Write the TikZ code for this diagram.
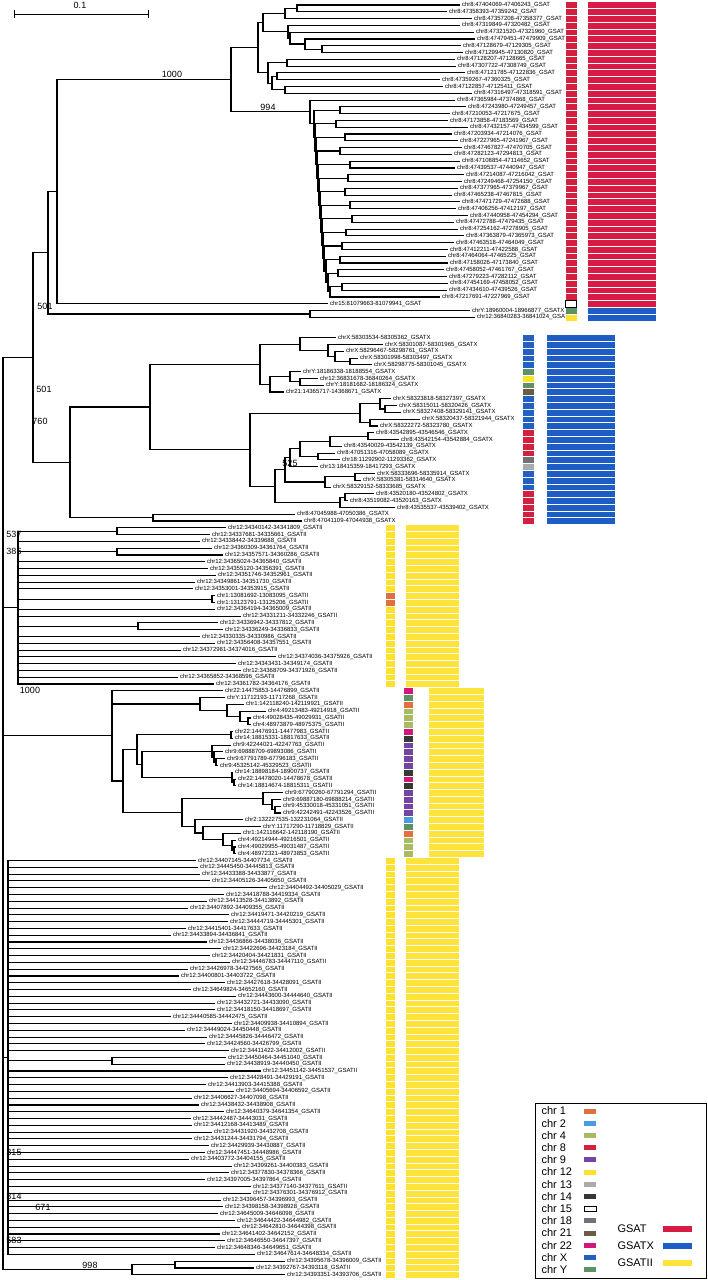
\documentclass[tikz,border=0pt]{standalone}
\usepackage{fontspec}
\setmainfont{Liberation Sans}
\usetikzlibrary{calc}
\definecolor{c1}{HTML}{E2703F}
\definecolor{c2}{HTML}{4A9BE2}
\definecolor{c4}{HTML}{A9BA64}
\definecolor{c8}{HTML}{D3203F}
\definecolor{c9}{HTML}{7444A2}
\definecolor{c12}{HTML}{FDE12F}
\definecolor{c13}{HTML}{A9ABAE}
\definecolor{c14}{HTML}{343A33}
\definecolor{c15}{HTML}{FFFFFF}
\definecolor{c18}{HTML}{707275}
\definecolor{c21}{HTML}{6C5B45}
\definecolor{c22}{HTML}{D1177A}
\definecolor{cX}{HTML}{2260C2}
\definecolor{cY}{HTML}{5E9264}
\definecolor{famsat}{HTML}{D81B45}
\definecolor{famsatx}{HTML}{1E5CC6}
\definecolor{famsatii}{HTML}{FEE33A}

\begin{document}
\begin{tikzpicture}[x=1pt,y=-1pt,line width=1.1pt,
    leaf/.style={anchor=west,inner sep=0pt,xshift=1.5pt,font=\fontsize{6}{6.5}\selectfont},
    boot/.style={font=\fontsize{9}{9}\selectfont,inner sep=0pt},
    cell/.style={draw=white,line width=0.3pt},
    legtxt/.style={anchor=west,inner sep=0pt,font=\fontsize{11}{11}\selectfont}]
  \useasboundingbox (0,0) rectangle (708,1280);

  % scale bar
  \coordinate (sb0) at (14,14);
  \coordinate (sb1) at (148,14);
  \draw[line width=0.8pt] (sb0) -- (sb1);
  \draw[line width=0.8pt] ($(sb0)+(0,-4)$) -- ($(sb0)+(0,4)$);
  \draw[line width=0.8pt] ($(sb1)+(0,-4)$) -- ($(sb1)+(0,4)$);
  \node[boot] (sblab) at (80,5) {0.1};

  % GSAT leaves
  \foreach \k/\xe/\cc/\fc/\lab in {
    1/460/c8/famsat/{chr8:47404069-47406243\_GSAT},
    2/447/c8/famsat/{chr8:47358393-47359242\_GSAT},
    3/472/c8/famsat/{chr8:47357208-47358377\_GSAT},
    4/460/c8/famsat/{chr8:47319849-47320482\_GSAT},
    5/474/c8/famsat/{chr8:47321520-47321960\_GSAT},
    6/475/c8/famsat/{chr8:47479451-47479909\_GSAT},
    7/461/c8/famsat/{chr8:47128679-47129305\_GSAT},
    8/463/c8/famsat/{chr8:47129945-47130820\_GSAT},
    9/455/c8/famsat/{chr8:47128207-47128665\_GSAT},
    10/456/c8/famsat/{chr8:47307722-47308749\_GSAT},
    11/465/c8/famsat/{chr8:47121785-47122836\_GSAT},
    12/440/c8/famsat/{chr8:47359267-47360325\_GSAT},
    13/443/c8/famsat/{chr8:47122857-47125411\_GSAT},
    14/472/c8/famsat/{chr8:47316497-47318591\_GSAT},
    15/455/c8/famsat/{chr8:47365984-47374868\_GSAT},
    16/466/c8/famsat/{chr8:47243980-47249457\_GSAT},
    17/450/c8/famsat/{chr8:47210053-47217675\_GSAT},
    18/448/c8/famsat/{chr8:47173858-47183569\_GSAT},
    19/468/c8/famsat/{chr8:47432157-47434599\_GSAT},
    20/452/c8/famsat/{chr8:47203934-47214076\_GSAT},
    21/458/c8/famsat/{chr8:47227965-47241967\_GSAT},
    22/462/c8/famsat/{chr8:47467827-47470705\_GSAT},
    23/452/c8/famsat/{chr8:47282123-47294813\_GSAT},
    24/460/c8/famsat/{chr8:47108854-47114652\_GSAT},
    25/455/c8/famsat/{chr8:47439537-47440947\_GSAT},
    26/464/c8/famsat/{chr8:47214087-47216042\_GSAT},
    27/462/c8/famsat/{chr8:47249468-47254150\_GSAT},
    28/458/c8/famsat/{chr8:47377965-47379967\_GSAT},
    29/452/c8/famsat/{chr8:47465238-47467815\_GSAT},
    30/460/c8/famsat/{chr8:47471729-47472688\_GSAT},
    31/456/c8/famsat/{chr8:47406256-47412197\_GSAT},
    32/468/c8/famsat/{chr8:47440958-47454294\_GSAT},
    33/454/c8/famsat/{chr8:47472788-47479435\_GSAT},
    34/458/c8/famsat/{chr8:47254162-47278905\_GSAT},
    35/464/c8/famsat/{chr8:47363879-47365973\_GSAT},
    36/454/c8/famsat/{chr8:47463518-47464049\_GSAT},
    37/448/c8/famsat/{chr8:47412211-47422588\_GSAT},
    38/446/c8/famsat/{chr8:47464064-47465225\_GSAT},
    39/448/c8/famsat/{chr8:47158026-47173840\_GSAT},
    40/444/c8/famsat/{chr8:47458052-47461767\_GSAT},
    41/447/c8/famsat/{chr8:47279223-47282112\_GSAT},
    42/448/c8/famsat/{chr8:47454169-47458052\_GSAT},
    43/447/c8/famsat/{chr8:47434610-47439526\_GSAT},
    44/440/c8/famsat/{chr8:47217691-47227969\_GSAT},
    45/328/c15/famsat/{chr15:81079663-81079941\_GSAT},
    46/470/cY/famsatx/{chrY:18960004-18966877\_GSATX},
    47/475/c12/famsatx/{chr12:36840283-36841024\_GSATX}}{
    \coordinate (a\k) at (\xe,{5+(\k-1)*6.79});
    \node[leaf] (la\k) at (a\k) {\lab};
    \path[fill=\cc,cell] (565,{1.6+(\k-1)*6.79}) rectangle ++(12,6.79);
    \path[fill=\fc,cell] (587,{1.6+(\k-1)*6.79}) rectangle ++(69,6.79);
  }
  \draw[line width=0.4pt] (565.5,{1.9+44*6.79}) rectangle ++(11,6.2);

  % GSATX leaves
  \foreach \k/\xe/\cc/\lab in {
    1/336/cX/{chrX:58303534-58305362\_GSATX},
    2/383/cX/{chrX:58301087-58301965\_GSATX},
    3/344/cX/{chrX:58296467-58298761\_GSATX},
    4/358/cX/{chrX:58301998-58303497\_GSATX},
    5/372/cX/{chrX:58298775-58301045\_GSATX},
    6/301/cY/{chrY:18186338-18188554\_GSATX},
    7/318/c12/{chr12:36831678-36840264\_GSATX},
    8/324/cY/{chrY:18181682-18186324\_GSATX},
    9/284/c21/{chr21:14365717-14368671\_GSATX},
    10/391/cX/{chrX:58323818-58327397\_GSATX},
    11/397/cX/{chrX:58315011-58320426\_GSATX},
    12/401/cX/{chrX:58327408-58329141\_GSATX},
    13/420/cX/{chrX:58320437-58321944\_GSATX},
    14/378/cX/{chrX:58322272-58323780\_GSATX},
    15/374/c8/{chr8:43542895-43546546\_GSATX},
    16/399/c8/{chr8:43542154-43542884\_GSATX},
    17/342/c8/{chr8:43540029-43542139\_GSATX},
    18/335/c8/{chr8:47051316-47058089\_GSATX},
    19/340/c18/{chr18:11292902-11293362\_GSATX},
    20/318/c13/{chr13:18415359-18417293\_GSATX},
    21/375/cX/{chrX:58333696-58335914\_GSATX},
    22/361/cX/{chrX:58305381-58314640\_GSATX},
    23/331/cX/{chrX:58329152-58333685\_GSATX},
    24/374/c8/{chr8:43520180-43524802\_GSATX},
    25/348/c8/{chr8:43519082-43520163\_GSATX},
    26/395/c8/{chr8:43535537-43539402\_GSATX},
    27/295/c8/{chr8:47045988-47050386\_GSATX},
    28/302/c8/{chr8:47041109-47044938\_GSATX}}{
    \coordinate (x\k) at (\xe,{5+(\k+48)*6.79});
    \node[leaf] (lx\k) at (x\k) {\lab};
    \path[fill=\cc,cell] (522,{1.6+(\k+48)*6.79}) rectangle ++(12,6.79);
    \path[fill=famsatx,cell] (546,{1.6+(\k+48)*6.79}) rectangle ++(69,6.79);
  }

  % GSATII leaves
  \foreach \k/\xe/\cc/\lab in {
    1/226/c12/{chr12:34340142-34341809\_GSATII},
    2/210/c12/{chr12:34337681-34335661\_GSATII},
    3/200/c12/{chr12:34338442-34339688\_GSATII},
    4/212/c12/{chr12:34360309-34361764\_GSATII},
    5/223/c12/{chr12:34357571-34360286\_GSATII},
    6/205/c12/{chr12:34365024-34365840\_GSATII},
    7/208/c12/{chr12:34355120-34356391\_GSATII},
    8/216/c12/{chr12:34351746-34352961\_GSATII},
    9/195/c12/{chr12:34349861-34351730\_GSATII},
    10/193/c12/{chr12:34353001-34353915\_GSATII},
    11/215/c1/{chr1:13081692-13083095\_GSATII},
    12/215/c1/{chr1:13123791-13125206\_GSATII},
    13/215/c12/{chr12:34364194-34365009\_GSATII},
    14/241/c12/{chr12:34331211-34332246\_GSATII},
    15/218/c12/{chr12:34336942-34337812\_GSATII},
    16/223/c12/{chr12:34336249-34336833\_GSATII},
    17/200/c12/{chr12:34330335-34330986\_GSATII},
    18/215/c12/{chr12:34356408-34357551\_GSATII},
    19/181/c12/{chr12:34372981-34374016\_GSATII},
    20/276/c12/{chr12:34374036-34375926\_GSATII},
    21/236/c12/{chr12:34343431-34349174\_GSATII},
    22/241/c12/{chr12:34368709-34371926\_GSATII},
    23/178/c12/{chr12:34365852-34368596\_GSATII},
    24/214/c12/{chr12:34361782-34364176\_GSATII},
    25/223/c22/{chr22:14475853-14476899\_GSATII},
    26/225/cY/{chrY:11712193-11717268\_GSATII},
    27/244/c1/{chr1:142118240-142119921\_GSATII},
    28/266/c4/{chr4:49213483-49214918\_GSATII},
    29/251/c4/{chr4:49028435-49029931\_GSATII},
    30/251/c4/{chr4:48973879-48975375\_GSATII},
    31/233/c22/{chr22:14476911-14477983\_GSATII},
    32/233/c14/{chr14:18815331-18817633\_GSATII},
    33/231/c9/{chr9:42244021-42247763\_GSATII},
    34/223/c9/{chr9:69888709-69893086\_GSATII},
    35/225/c9/{chr9:67791789-67796183\_GSATII},
    36/218/c9/{chr9:45325142-45329523\_GSATII},
    37/233/c14/{chr14:18898184-18900737\_GSATII},
    38/236/c22/{chr22:14478020-14478678\_GSATII},
    39/236/c14/{chr14:18814674-18815311\_GSATII},
    40/283/c9/{chr9:67790260-67791294\_GSATII},
    41/281/c9/{chr9:69887180-69888214\_GSATII},
    42/281/c9/{chr9:45330018-45331051\_GSATII},
    43/281/c9/{chr9:42242491-42243526\_GSATII},
    44/243/c2/{chr2:132227535-132231064\_GSATII},
    45/261/cY/{chrY:11717290-11718829\_GSATII},
    46/241/c1/{chr1:142116642-142118190\_GSATII},
    47/236/c4/{chr4:49214944-49216501\_GSATII},
    48/236/c4/{chr4:49029955-49031487\_GSATII},
    49/236/c4/{chr4:48972321-48973853\_GSATII},
    50/196/c12/{chr12:34407145-34407734\_GSATII},
    51/198/c12/{chr12:34445450-34445813\_GSATII},
    52/200/c12/{chr12:34433388-34433877\_GSATII},
    53/210/c12/{chr12:34405126-34405650\_GSATII},
    54/267/c12/{chr12:34404492-34405029\_GSATII},
    55/224/c12/{chr12:34418788-34419334\_GSATII},
    56/207/c12/{chr12:34413528-34413892\_GSATII},
    57/188/c12/{chr12:34407892-34409355\_GSATII},
    58/229/c12/{chr12:34419471-34420219\_GSATII},
    59/228/c12/{chr12:34444719-34445301\_GSATII},
    60/186/c12/{chr12:34415401-34417633\_GSATII},
    61/171/c12/{chr12:34433894-34436841\_GSATII},
    62/207/c12/{chr12:34436866-34438036\_GSATII},
    63/221/c12/{chr12:34422696-34423184\_GSATII},
    64/210/c12/{chr12:34420404-34421831\_GSATII},
    65/230/c12/{chr12:34446783-34447110\_GSATII},
    66/188/c12/{chr12:34426978-34427565\_GSATII},
    67/179/c12/{chr12:34400801-34403722\_GSATII},
    68/225/c12/{chr12:34427618-34428091\_GSATII},
    69/191/c12/{chr12:34649824-34652160\_GSATII},
    70/236/c12/{chr12:34443600-34444640\_GSATII},
    71/215/c12/{chr12:34432721-34433090\_GSATII},
    72/215/c12/{chr12:34418150-34418697\_GSATII},
    73/171/c12/{chr12:34440585-34442475\_GSATII},
    74/232/c12/{chr12:34409938-34410894\_GSATII},
    75/185/c12/{chr12:34449024-34450448\_GSATII},
    76/207/c12/{chr12:34445826-34446472\_GSATII},
    77/205/c12/{chr12:34424560-34426799\_GSATII},
    78/229/c12/{chr12:34411422-34412002\_GSATII},
    79/226/c12/{chr12:34450464-34451040\_GSATII},
    80/225/c12/{chr12:34438919-34440450\_GSATII},
    81/261/c12/{chr12:34451142-34451537\_GSATII},
    82/228/c12/{chr12:34428491-34429191\_GSATII},
    83/206/c12/{chr12:34413903-34415388\_GSATII},
    84/234/c12/{chr12:34405694-34406592\_GSATII},
    85/192/c12/{chr12:34406627-34407098\_GSATII},
    86/199/c12/{chr12:34438432-34438908\_GSATII},
    87/224/c12/{chr12:34640379-34641354\_GSATII},
    88/191/c12/{chr12:34442487-34443031\_GSATII},
    89/192/c12/{chr12:34412168-34413489\_GSATII},
    90/212/c12/{chr12:34431920-34432708\_GSATII},
    91/192/c12/{chr12:34431244-34431794\_GSATII},
    92/209/c12/{chr12:34429939-34430887\_GSATII},
    93/205/c12/{chr12:34447451-34448986\_GSATII},
    94/189/c12/{chr12:34403772-34404155\_GSATII},
    95/232/c12/{chr12:34399261-34400383\_GSATII},
    96/229/c12/{chr12:34377830-34378366\_GSATII},
    97/205/c12/{chr12:34397005-34397864\_GSATII},
    98/251/c12/{chr12:34377140-34377611\_GSATII},
    99/251/c12/{chr12:34376301-34376912\_GSATII},
    100/221/c12/{chr12:34396457-34396993\_GSATII},
    101/223/c12/{chr12:34398158-34398928\_GSATII},
    102/218/c12/{chr12:34645009-34646098\_GSATII},
    103/235/c12/{chr12:34644422-34644982\_GSATII},
    104/240/c12/{chr12:34642810-34644398\_GSATII},
    105/220/c12/{chr12:34641402-34642152\_GSATII},
    106/225/c12/{chr12:34646550-34647397\_GSATII},
    107/215/c12/{chr12:34648346-34649651\_GSATII},
    108/255/c12/{chr12:34647614-34648334\_GSATII},
    109/285/c12/{chr12:34395678-34396009\_GSATII},
    110/254/c12/{chr12:34392767-34393118\_GSATII},
    111/285/c12/{chr12:34393351-34393706\_GSATII}}{
    \coordinate (s\k) at (\xe,{5+(\k+76)*6.79});
    \node[leaf] (ls\k) at (s\k) {\lab};
    \ifnum\k<25 \def\bx{385}\def\fx{405}\def\fw{54}\else
      \ifnum\k>49 \def\bx{385}\def\fx{405}\def\fw{54}\else
        \def\bx{403}\def\fx{428}\def\fw{56}\fi\fi
    \path[fill=\cc,cell] (\bx,{1.6+(\k+76)*6.79}) rectangle ++(10,6.79);
    \path[fill=famsatii,cell] (\fx,{1.6+(\k+76)*6.79}) rectangle ++(\fw,6.79);
  }

  % inner nodes: name / x / first child / last child
  \foreach \nd/\px/\ca/\cb in {
    u11/297/a1/a2, u12/285/u11/a3, u13/322/a7/a8, u14/305/a6/u13, u15/290/a5/u14,
    u16/288/a4/u15, u1/263/u12/u16,
    u21/287/a9/a10, u22/277/a11/a12, u23/285/a13/a14, u24/272/u22/u23,
    u26/268/u21/u24, u0/258/u1/u26,
    t1/340/a16/a17, t2/336/a18/a19, t3/345/a20/a21, t4/340/a22/a23, t5/350/a24/a25,
    t6/348/a26/a27, t7/345/a28/a29, t8/350/a30/a31, t9/352/a32/a33, t10/346/a34/a35,
    t11/342/a36/a37, t12/340/a38/a39, t13/338/a40/a41, t14/342/a42/a43,
    v13/330/t14/a44, v12/328/t13/v13, v11/326/t12/v12, v10/324/t11/v11, v9/323/t10/v10,
    v8/322/t9/v9, v7/321/t8/v8, v6/320/t7/v7, v5/319/t6/v6, v4/318/t5/v5,
    v3/317/t4/v4, v2/316/t3/v3, v1b/315/t2/v2, v1/314/t1/v1b, v0/310/a15/v1,
    g1/231/u0/v0, g501/57/g1/a45, gyy/310/a46/a47, g501b/48/g501/gyy,
    xp1/350/x4/x5, xp2/335/x3/xp1, xp3/328/x2/xp2, xg1/300/x1/xp3,
    xp4/300/x7/x8, xp5/290/x6/xp4, xg2/270/xp5/x9,
    xp6/385/x11/x12, xp7/380/x10/xp6, xp8/370/x13/x14, xg3/360/xp7/xp8,
    xp9/368/x15/x16, xg4/330/xp9/x17, xp10/318/x18/x19, xg5/300/xg4/xp10, xg6/290/xg5/x20,
    xp11/355/x21/x22, xg7/325/xp11/x23, xp12/345/x24/x25, xg8/340/xp12/x26,
    xh2/285/xg6/xg7, xh3/275/xh2/xg8, xh4/250/xg3/xh3, xh1/260/xg1/xg2,
    xh5/150/xh1/xh4, xp13/153/x27/x28, xr/70/xh5/xp13,
    g760/33/g501b/xr,
    sp1/117/s1/s2, sp2/117/s4/s5, sp3/212/s11/s12, sp4/138/s15/s16,
    b537/18/sp1/s24,
    mA4/248/s29/s30, mA3/240/s28/mA4, mA2/227/s27/mA3, mA1/200/s26/mA2,
    mP1/231/s31/s32, m9c/216/s35/s36, m9b/214/s34/m9c, m9a/212/s33/m9b,
    mT3/234/s38/s39, mT2/232/s37/mT3, mC/142/m9a/mT2, mB1/137/mP1/mC,
    mQ3/275/s42/s43, mQ2/272/s41/mQ3, mQ1/263/s40/mQ2,
    mR5/234/s48/s49, mR4/232/s47/mR5, mR3/223/s46/mR4, mR2/203/s45/mR3, mR1/195/s44/mR2,
    mB/182/mQ1/mR1, m2/123/mB1/mB, m1/112/s25/m2,
    sp5/112/s79/s80, b3/8/s50/s108,
    cB2/175/s109/s110, cB1/132/cB2/s111,
    r0/3/g760/cB1}{
    \path let \p1=($(\ca)!.5!(\cb)$) in coordinate (\nd) at (\px pt,\y1);
    \draw (\nd) |- (\ca) (\nd) |- (\cb);
  }
  % extra children of multifurcations
  \foreach \ch in {s3,sp2,s6,s7,s8,s9,s10,sp3,s13,s14,sp4,s17,s18,s19,s20,s21,s22,s23}
    \draw (b537) |- (\ch);
  \foreach \i in {51,...,78,81,82,...,107}
    \draw (b3) |- (s\i);
  \draw (b3) |- (sp5);
  \draw (m1) |- (mA1);
  \foreach \ch in {b537,m1,b3}
    \draw (r0) |- (\ch);

  % bootstrap values
  \node[boot] (bs1000a) at (172,74) {1000};
  \node[boot] (bs994) at (268,107) {994};
  \node[boot] (bs501a) at (45,306) {501};
  \node[boot] (bs501b) at (44,389) {501};
  \node[boot] (bs760) at (40,421) {760};
  \node[boot] (bs525) at (290,463) {525};
  \node[boot] (bs386) at (14,551) {386};
  \node[boot] (bs537) at (14,534) {537};
  \node[boot] (bs1000b) at (30,690) {1000};
  \node[boot] (bs315) at (14,1152) {315};
  \node[boot] (bs314) at (14,1196) {314};
  \node[boot] (bs671) at (43,1207) {671};
  \node[boot] (bs583) at (14,1240) {583};
  \node[boot] (bs998) at (90,1265) {998};

  % legend
  \draw[line width=0.8pt] (535,1103) rectangle (706,1278);
  \foreach \i/\t/\cc in {0/chr 1/c1,1/chr 2/c2,2/chr 4/c4,3/chr 8/c8,4/chr 9/c9,
      5/chr 12/c12,6/chr 13/c13,7/chr 14/c14,8/chr 15/c15,9/chr 18/c18,
      10/chr 21/c21,11/chr 22/c22,12/chr X/cX,13/chr Y/cY}{
    \node[legtxt] (lg\i) at (541,{1111+\i*12.2}) {\t};
    \path[fill=\cc] (584,{1108.5+\i*12.2}) rectangle ++(12,5);
  }
  \draw[line width=0.4pt] (584,{1108.5+8*12.2}) rectangle ++(12,5);
  \foreach \i/\t/\cc in {0/GSAT/famsat,1/GSATX/famsatx,2/GSATII/famsatii}{
    \node[legtxt] (lf\i) at (617,{1229+\i*17}) {\t};
    \path[fill=\cc] (663,{1226+\i*17}) rectangle ++(29,6);
  }
\end{tikzpicture}
\end{document}
